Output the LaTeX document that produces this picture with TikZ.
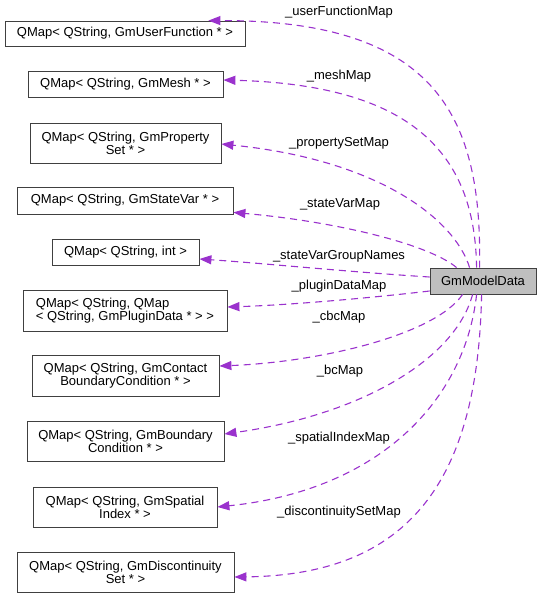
\documentclass[tikz,border=0pt]{standalone}
\usepackage{fontspec}
\setmainfont{Liberation Sans}
\usetikzlibrary{arrows.meta,calc}
\definecolor{edgec}{HTML}{9A32CD}
\definecolor{gmfill}{HTML}{BFBFBF}
\begin{document}
\begin{tikzpicture}[x=1pt,y=-1pt,
  font=\fontsize{13}{13.3}\selectfont,
  box/.style={draw=black!75, line width=0.8pt, fill=white, inner sep=0pt, align=center},
  lbl/.style={inner sep=0pt, text=black},
  edge/.style={draw=edgec, line width=1.1pt, dash pattern=on 7pt off 5pt,
    -{Triangle[length=12pt,width=9pt]}}]
\useasboundingbox (0,0) rectangle (541,598);
% boxes
\node[box, minimum width=240pt, minimum height=25pt] (uf) at (125,33.5) {QMap< QString, GmUserFunction * >};
\node[box, minimum width=195pt, minimum height=26pt] (mesh) at (125.5,84) {QMap< QString, GmMesh * >};
\node[box, minimum width=191pt, minimum height=40pt] (prop) at (125.5,143) {QMap< QString, GmProperty\\Set * >};
\node[box, minimum width=216pt, minimum height=27pt] (sv) at (125,200.5) {QMap< QString, GmStateVar * >};
\node[box, minimum width=147pt, minimum height=26pt] (int) at (125.5,252) {QMap< QString, int >};
\node[box, minimum width=204pt, minimum height=41pt, align=left] (plug) at (125,310.5) {QMap< QString, QMap\\< QString, GmPluginData * > >};
\node[box, minimum width=187pt, minimum height=41pt] (cbc) at (125.5,375.5) {QMap< QString, GmContact\\BoundaryCondition * >};
\node[box, minimum width=197pt, minimum height=40pt] (bc) at (125.5,441) {QMap< QString, GmBoundary\\Condition * >};
\node[box, minimum width=184pt, minimum height=40pt] (sp) at (125,507) {QMap< QString, GmSpatial\\Index * >};
\node[box, minimum width=217pt, minimum height=40pt] (dis) at (125.5,572) {QMap< QString, GmDiscontinuity\\Set * >};
\node[box, fill=gmfill, minimum width=106pt, minimum height=26pt] (gm) at (483,281) {GmModelData};
% edges
\draw[edge] ([xshift=50pt]gm.north west) .. controls (482,120) and (440,20) .. ([xshift=-37pt]uf.north east);
\draw[edge] ([xshift=47pt]gm.north west) .. controls (475,160) and (420,85) .. ([yshift=4pt]mesh.east);
\draw[edge] ([xshift=40pt]gm.north west) .. controls (455,220) and (380,160) .. ([yshift=-1pt]prop.east);
\draw[edge] ([xshift=27pt]gm.north west) .. controls (430,245) and (340,222) .. ([yshift=2pt]sv.south east);
\draw[edge] ([yshift=4pt]gm.west) .. controls (350,272) and (260,263) .. ([yshift=-7pt]int.east);
\draw[edge] ([yshift=-10pt]gm.west) .. controls (370,298) and (290,305) .. ([yshift=3.5pt]plug.east);
\draw[edge] ([xshift=33pt]gm.south west) .. controls (435,335) and (320,362) .. ([yshift=9.5pt]cbc.east);
\draw[edge] ([xshift=43pt]gm.south west) .. controls (455,360) and (360,415) .. ([yshift=7pt]bc.east);
\draw[edge] ([xshift=47pt]gm.south west) .. controls (465,400) and (380,490) .. (sp.east);
\draw[edge] ([xshift=52pt]gm.south west) .. controls (478,480) and (410,575) .. ([yshift=-5pt]dis.east);
% labels
\node[lbl] (l1) at (339,12) {\_userFunctionMap};
\node[lbl] (l2) at (339,76) {\_meshMap};
\node[lbl] (l3) at (339,143) {\_propertySetMap};
\node[lbl] (l4) at (340,204) {\_stateVarMap};
\node[lbl] (l5) at (339,256) {\_stateVarGroupNames};
\node[lbl] (l6) at (339,286) {\_pluginDataMap};
\node[lbl] (l7) at (339,317) {\_cbcMap};
\node[lbl] (l8) at (340,371) {\_bcMap};
\node[lbl] (l9) at (339,438) {\_spatialIndexMap};
\node[lbl] (l10) at (339,512) {\_discontinuitySetMap};
\end{tikzpicture}
\end{document}
